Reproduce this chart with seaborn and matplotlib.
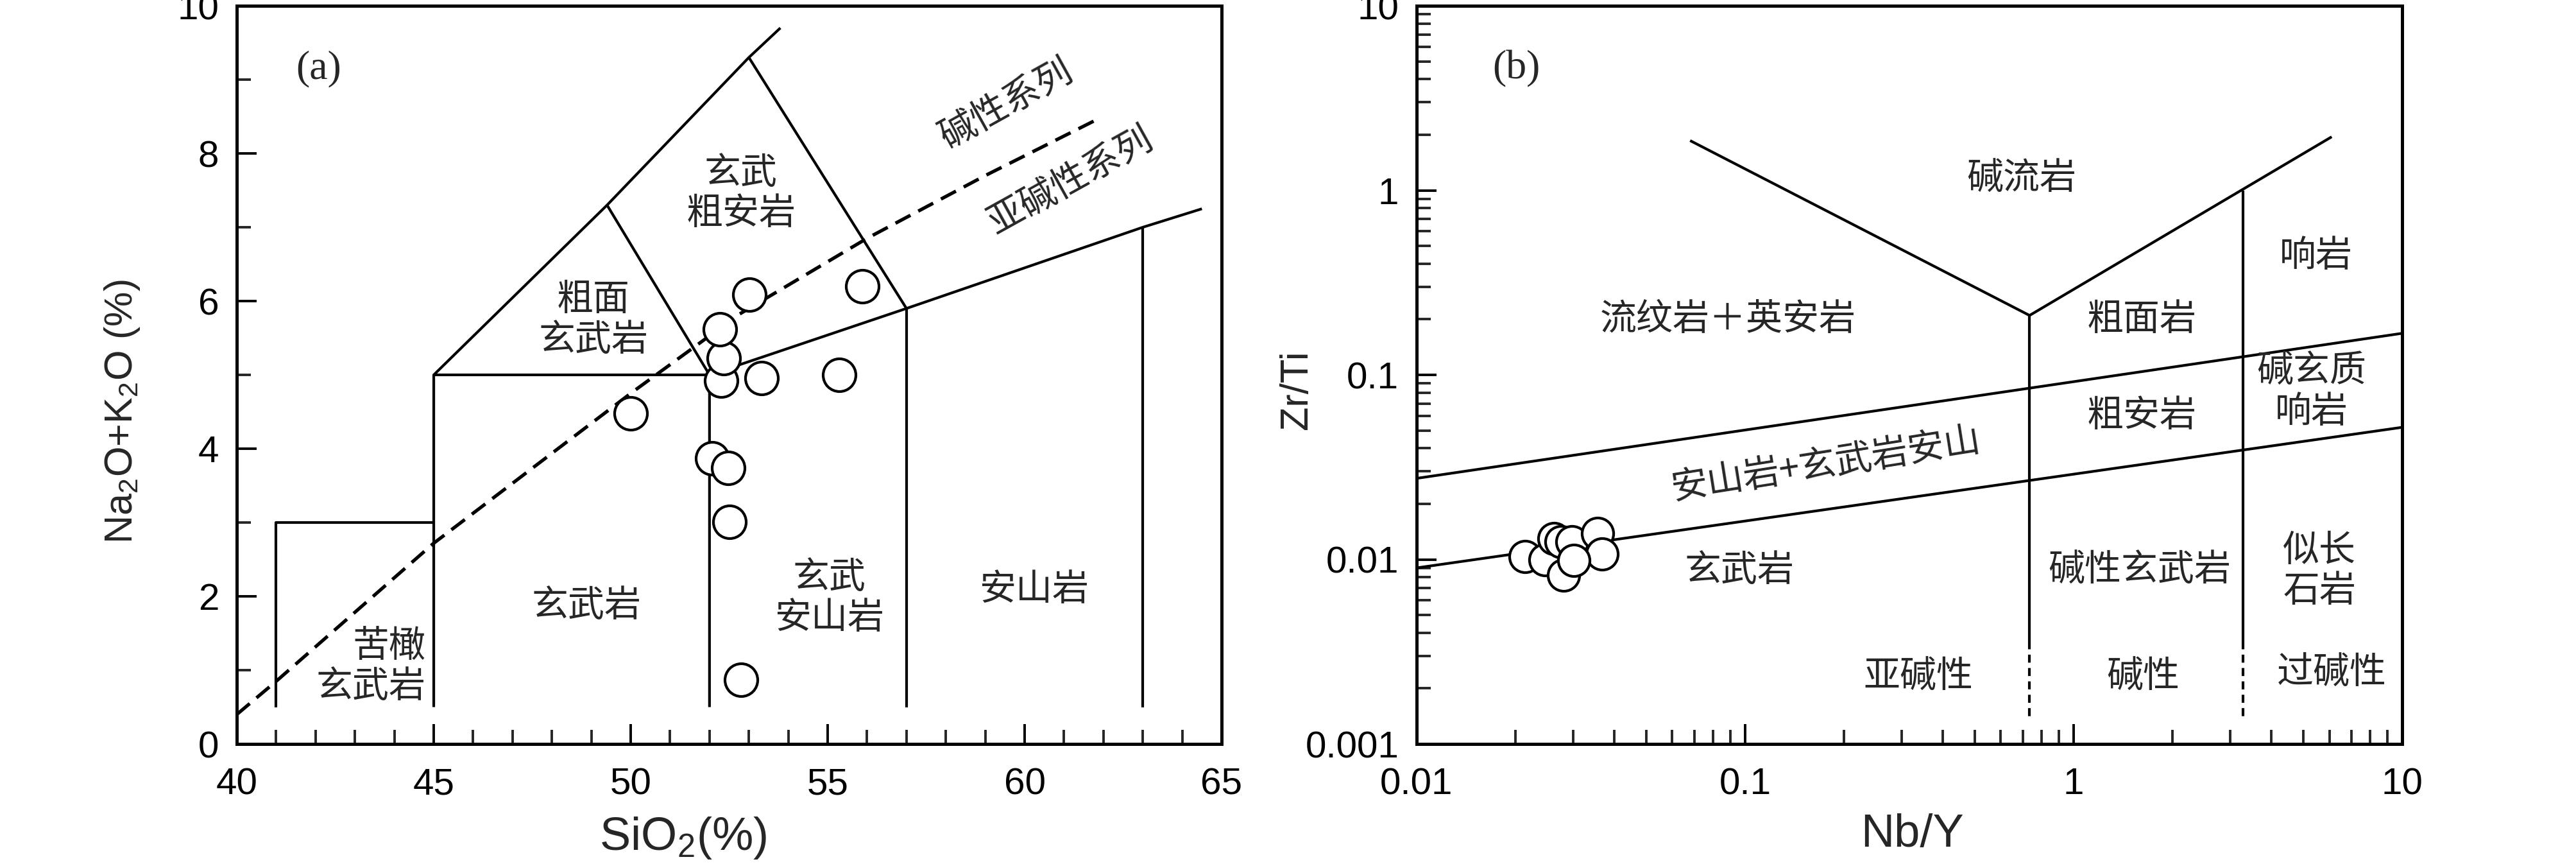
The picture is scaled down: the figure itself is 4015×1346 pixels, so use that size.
import matplotlib
matplotlib.use('Agg')
import matplotlib.pyplot as plt
import numpy as np
import seaborn as sns
from matplotlib.ticker import MultipleLocator, FuncFormatter, LogLocator, NullFormatter

# ---------------------------------------------------------------
# data
# ---------------------------------------------------------------
# (a) TAS diagram samples
sio2 = [50.0, 52.07, 52.47, 52.50, 52.80, 52.29, 52.36, 52.27, 53.01, 53.32, 55.29, 55.88]
alk = [4.48, 3.87, 3.74, 3.01, 0.87, 4.92, 5.23, 5.62, 6.09, 4.96, 5.00, 6.20]

# (b) Nb/Y - Zr/Ti samples
nb_y = [0.0214, 0.0246, 0.0262, 0.0275, 0.0297, 0.0356, 0.0366, 0.0280, 0.0301]
zr_ti = [0.0104, 0.0100, 0.0130, 0.0125, 0.0125, 0.0138, 0.0107, 0.0082, 0.0099]

# TAS boundaries
tas_picro_x = [41, 41, 45]
tas_picro_y = [0.5, 3, 3]
tas_b45_x = [45, 45, 49.4, 53, 53.8]
tas_b45_y = [0.5, 5, 7.3, 9.3, 9.7]
tas_h5_x = [45, 52]
tas_h5_y = [5, 5]
tas_b52_x = [52, 52, 57, 63, 64.5]
tas_b52_y = [0.5, 5, 5.9, 7, 7.25]
tas_v57_x = [57, 57]
tas_v57_y = [0.5, 5.9]
tas_v63_x = [63, 63]
tas_v63_y = [0.5, 7]
tas_d1_x = [49.4, 52]
tas_d1_y = [7.3, 5]
tas_d2_x = [53, 57]
tas_d2_y = [9.3, 5.9]
# alkaline / subalkaline dashed divider
ib_x = [40, 41, 45, 50, 52.75, 56, 59, 61.8]
ib_y = [0.4, 0.85, 2.72, 4.75, 5.82, 6.85, 7.7, 8.45]

# Nb/Y - Zr/Ti boundaries
wf_v_x = [0.068, 0.734, 6.1]
wf_v_y = [1.86, 0.21, 1.95]
wf_up_x = [0.01, 10]
wf_up_y = [0.0275, 0.168]
wf_lo_x = [0.01, 10]
wf_lo_y = [0.0090, 0.052]
wf_s1_x = [0.734, 0.734]
wf_s1_y = [0.21, 0.0036]
wf_s2_x = [3.28, 3.28]
wf_s2_y = [1.0, 0.0036]
wf_dash_y = [0.0036, 0.0014]

# labels
tas_labels = [
    ('玄武\n粗安岩', 52.8, 7.46),
    ('粗面\n玄武岩', 49.05, 5.75),
    ('玄武岩', 48.87, 1.87),
    ('玄武\n安山岩', 55.04, 1.98),
    ('安山岩', 60.24, 2.09),
]
wf_labels = [
    ('碱流岩', 0.695, 1.15),
    ('响岩', 5.46, 0.44),
    ('流纹岩＋英安岩', 0.0886, 0.20),
    ('粗面岩', 1.61, 0.20),
    ('碱玄质\n响岩', 5.3, 0.081),
    ('粗安岩', 1.61, 0.060),
    ('玄武岩', 0.096, 0.0087),
    ('碱性玄武岩', 1.59, 0.0087),
    ('似长\n石岩', 5.6, 0.0087),
    ('亚碱性', 0.336, 0.0023),
    ('碱性', 1.63, 0.0023),
    ('过碱性', 6.1, 0.00245),
]

# ---------------------------------------------------------------
sns.set_theme(style='white')
plt.rcParams['font.family'] = ['Liberation Sans', 'Noto Sans CJK SC', 'DejaVu Sans']
plt.rcParams['mathtext.default'] = 'regular'
plt.rcParams['axes.linewidth'] = 3.6
plt.rcParams['axes.edgecolor'] = 'black'

CJK = ['Noto Sans CJK SC', 'DejaVu Sans']
LW = 3.0
CJK_SIZE = 41

fig = plt.figure(figsize=(40.16, 13.46), dpi=100)
ax1 = fig.add_axes([0.0919, 0.1389, 0.3822, 0.8544])
ax2 = fig.add_axes([0.5498, 0.1389, 0.3825, 0.8544])

# ----------------------------- (a) ------------------------------
for xs, ys in [(tas_picro_x, tas_picro_y), (tas_b45_x, tas_b45_y), (tas_h5_x, tas_h5_y),
               (tas_b52_x, tas_b52_y), (tas_v57_x, tas_v57_y), (tas_v63_x, tas_v63_y),
               (tas_d1_x, tas_d1_y), (tas_d2_x, tas_d2_y)]:
    ax1.plot(xs, ys, color='black', lw=LW, solid_capstyle='butt')
ax1.plot(ib_x, ib_y, color='black', lw=3.8, linestyle=(0, (5, 2.6)))

sns.scatterplot(x=sio2, y=alk, ax=ax1, s=1350, color='white', edgecolor='black',
                linewidth=3, zorder=5)

for txt, x, y in tas_labels:
    ax1.text(x, y, txt, family=CJK, fontsize=CJK_SIZE, ha='center', va='center',
             linespacing=1.1)
ax1.text(44.8, 1.05, '苦橄\n玄武岩', family=CJK, fontsize=CJK_SIZE, ha='right',
         va='center', multialignment='right', linespacing=1.1)
ax1.text(59.53, 8.66, '碱性系列', family=CJK, fontsize=CJK_SIZE, rotation=29,
         ha='center', va='center', rotation_mode='anchor')
ax1.text(61.16, 7.62, '亚碱性系列', family=CJK, fontsize=CJK_SIZE, rotation=29,
         ha='center', va='center', rotation_mode='anchor')
ax1.text(42.08, 9.14, '(a)', family='Liberation Serif', fontsize=46, ha='center', va='center')

ax1.set_xlim(40, 65)
ax1.set_ylim(0, 10)
ax1.xaxis.set_major_locator(MultipleLocator(5))
ax1.xaxis.set_minor_locator(MultipleLocator(1))
ax1.yaxis.set_major_locator(MultipleLocator(2))
ax1.yaxis.set_minor_locator(MultipleLocator(1))
ax1.set_xlabel('SiO$_2$(%)', fontsize=52)
ax1.set_ylabel('Na$_2$O+K$_2$O (%)', fontsize=44)
ax1.xaxis.set_label_coords(0.453, -0.127)
ax1.yaxis.set_label_coords(-0.1166, 0.45)

# ----------------------------- (b) ------------------------------
ax2.set_xscale('log')
ax2.set_yscale('log')
for xs, ys in [(wf_v_x, wf_v_y), (wf_up_x, wf_up_y), (wf_lo_x, wf_lo_y),
               (wf_s1_x, wf_s1_y), (wf_s2_x, wf_s2_y)]:
    ax2.plot(xs, ys, color='black', lw=LW, solid_capstyle='butt')
for xv in [wf_s1_x[0], wf_s2_x[0]]:
    ax2.plot([xv, xv], wf_dash_y, color='black', lw=LW, linestyle=(0, (3, 2)))

sns.scatterplot(x=nb_y, y=zr_ti, ax=ax2, s=1250, color='white', edgecolor='black',
                linewidth=3, zorder=5)

for txt, x, y in wf_labels:
    ax2.text(x, y, txt, family=CJK, fontsize=CJK_SIZE, ha='center', va='center',
             linespacing=1.1)
ax2.text(0.176, 0.0326, '安山岩+玄武岩安山', family=CJK, fontsize=CJK_SIZE, rotation=9,
         ha='center', va='center', rotation_mode='anchor')
ax2.text(0.0201, 4.54, '(b)', family='Liberation Serif', fontsize=46, ha='center', va='center')

ax2.set_xlim(0.01, 10)
ax2.set_ylim(0.001, 10)
fmt = FuncFormatter(lambda v, p: f'{v:g}')
ax2.xaxis.set_major_locator(LogLocator(base=10, numticks=10))
ax2.yaxis.set_major_locator(LogLocator(base=10, numticks=10))
ax2.xaxis.set_minor_locator(LogLocator(base=10, subs=np.arange(2, 10), numticks=10))
ax2.yaxis.set_minor_locator(LogLocator(base=10, subs=np.arange(2, 10), numticks=10))
ax2.xaxis.set_major_formatter(fmt)
ax2.yaxis.set_major_formatter(fmt)
ax2.xaxis.set_minor_formatter(NullFormatter())
ax2.yaxis.set_minor_formatter(NullFormatter())
ax2.set_xlabel('Nb/Y', fontsize=52)
ax2.set_ylabel('Zr/Ti', fontsize=44)
ax2.xaxis.set_label_coords(0.503, -0.123)
ax2.yaxis.set_label_coords(-0.1217, 0.48)

for ax in (ax1, ax2):
    ax.tick_params(which='major', direction='in', length=22, width=2.8, labelsize=42,
                   pad=20, left=True, bottom=True, top=False, right=False, colors='black')
    ax.tick_params(which='minor', direction='in', length=16, width=2.8,
                   left=True, bottom=True, top=False, right=False)
    ax.tick_params(axis='x', which='major', pad=26)
    ax.xaxis.label.set_va('center')
    ax.yaxis.label.set_va('center')
    for sp in ax.spines.values():
        sp.set_visible(True)
        sp.set_color('black')
        sp.set_linewidth(3.6)
    ax.grid(False)

fig.savefig('out.png', dpi=100, facecolor='white')
